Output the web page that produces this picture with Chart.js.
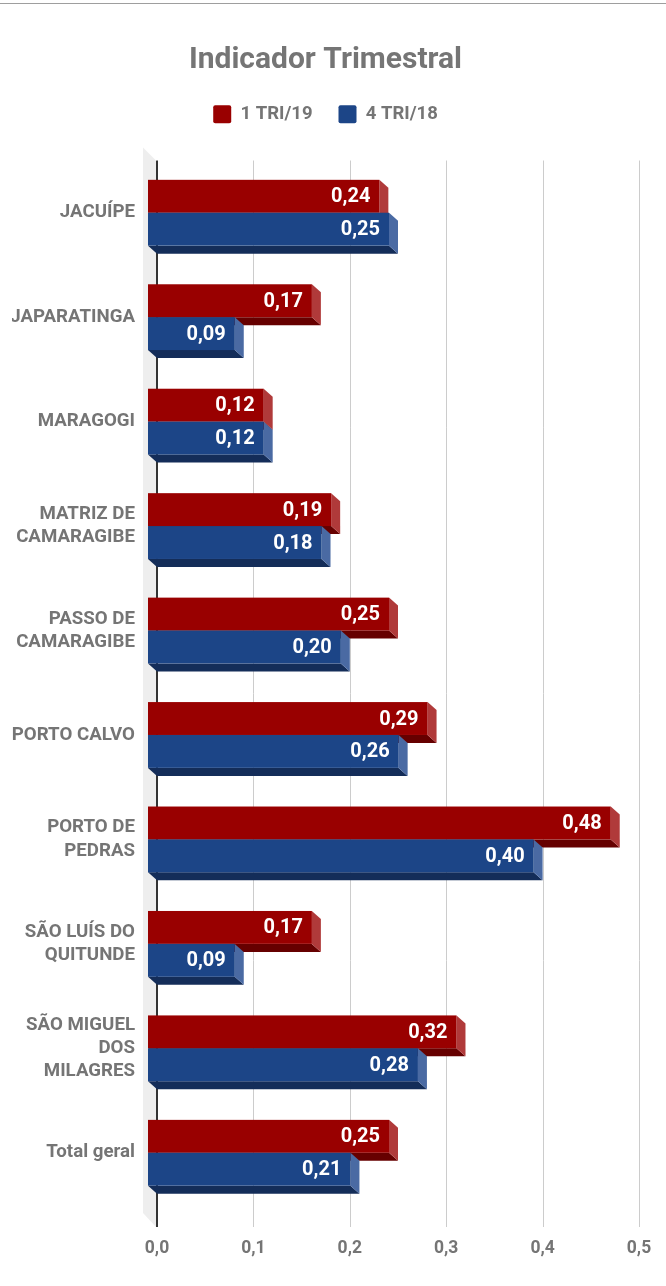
<!DOCTYPE html>
<html>
<head>
<meta charset="utf-8">
<script src="https://cdn.jsdelivr.net/npm/chart.js@4.4.1/dist/chart.umd.min.js"></script>
<style>
  html, body { margin: 0; padding: 0; background: #fff; }
  .topline { position: absolute; left: 0; top: 3px; width: 666px; height: 1px; background: #9e9e9e; }
  .wrap { position: absolute; left: 0; top: 0; width: 666px; height: 1286px; }
</style>
</head>
<body>
<div class="wrap"><canvas id="indicadorChart" width="666" height="1286"></canvas></div>
<div class="topline"></div>
<script>
const categories = [
  'JACUÍPE',
  'JAPARATINGA',
  'MARAGOGI',
  ['MATRIZ DE', 'CAMARAGIBE'],
  ['PASSO DE', 'CAMARAGIBE'],
  'PORTO CALVO',
  ['PORTO DE', 'PEDRAS'],
  ['SÃO LUÍS DO', 'QUITUNDE'],
  ['SÃO MIGUEL', 'DOS', 'MILAGRES'],
  'Total geral'
];
const tri1_19 = [0.24, 0.17, 0.12, 0.19, 0.25, 0.29, 0.48, 0.17, 0.32, 0.25];
const tri4_18 = [0.25, 0.09, 0.12, 0.18, 0.20, 0.26, 0.40, 0.09, 0.28, 0.21];
const xTicks = [0, 0.1, 0.2, 0.3, 0.4, 0.5];

const GRAY = '#757575';
const fmt = v => v.toFixed(2).replace('.', ',');

// cores de cada face (frente, lado, fundo)
const faces = [
  { front: '#990000', side: '#b03a3a', bottom: '#660000' },
  { front: '#1c4587', side: '#4a6aa3', bottom: '#142d59' }
];

// desenha grade, parede e barras em "3D" no lugar das barras normais
const bars3d = {
  id: 'bars3d',
  beforeDatasetsDraw(chart) {
    const ctx = chart.ctx;
    const area = chart.chartArea;
    const xs = chart.scales.x;
    const dx = 9, dy = 8;
    const floor = area.bottom + 22; // a grade desce um pouco abaixo da ultima categoria

    ctx.save();
    // linhas verticais da grade
    xTicks.forEach(t => {
      const px = Math.round(xs.getPixelForValue(t));
      ctx.strokeStyle = t === 0 ? '#333333' : '#cccccc';
      ctx.lineWidth = t === 0 ? 2 : 1;
      ctx.beginPath();
      ctx.moveTo(t === 0 ? px : px + 0.5, area.top);
      ctx.lineTo(t === 0 ? px : px + 0.5, floor);
      ctx.stroke();
    });

    // parede cinza na esquerda
    ctx.fillStyle = '#eeeeee';
    ctx.beginPath();
    ctx.moveTo(area.left - 14, area.top - 13);
    ctx.lineTo(area.left - 1, area.top);
    ctx.lineTo(area.left - 1, floor);
    ctx.lineTo(area.left - 14, floor - 14);
    ctx.closePath();
    ctx.fill();

    const metas = [chart.getDatasetMeta(0), chart.getDatasetMeta(1)];
    for (let i = 0; i < categories.length; i++) {
      metas.forEach((meta, d) => {
        const bar = meta.data[i];
        const c = faces[d];
        const x0 = bar.base - dx, x1 = bar.x - dx;
        const top = bar.y - bar.height / 2, bot = bar.y + bar.height / 2;

        ctx.fillStyle = c.bottom;
        ctx.beginPath();
        ctx.moveTo(x0, bot);
        ctx.lineTo(x1, bot);
        ctx.lineTo(x1 + dx, bot + dy);
        ctx.lineTo(x0 + dx, bot + dy);
        ctx.closePath();
        ctx.fill();

        ctx.fillStyle = c.side;
        ctx.beginPath();
        ctx.moveTo(x1, top);
        ctx.lineTo(x1 + dx, top + dy);
        ctx.lineTo(x1 + dx, bot + dy);
        ctx.lineTo(x1, bot);
        ctx.closePath();
        ctx.fill();

        ctx.fillStyle = c.front;
        ctx.fillRect(x0, top, x1 - x0, bot - top);

        const v = chart.data.datasets[d].data[i];
        ctx.fillStyle = '#ffffff';
        ctx.font = 'bold 20px Roboto';
        ctx.textAlign = 'right';
        ctx.textBaseline = 'middle';
        ctx.fillText(fmt(v), x1 - 9, bar.y + 1);
      });
    }
    ctx.restore();
    return false;
  }
};

const ctx = document.getElementById('indicadorChart').getContext('2d');
new Chart(ctx, {
  type: 'bar',
  data: {
    labels: categories,
    datasets: [
      { label: '1 TRI/19', data: tri1_19, backgroundColor: faces[0].front, borderColor: faces[0].front },
      { label: '4 TRI/18', data: tri4_18, backgroundColor: faces[1].front, borderColor: faces[1].front }
    ]
  },
  plugins: [bars3d],
  options: {
    indexAxis: 'y',
    responsive: false,
    animation: false,
    layout: { padding: { left: 12, right: 27, top: 0, bottom: 0 } },
    datasets: { bar: { barPercentage: 1, categoryPercentage: 0.63 } },
    plugins: {
      title: {
        display: true,
        text: 'Indicador Trimestral',
        color: GRAY,
        font: { family: 'Roboto', size: 30, weight: 'bold' },
        padding: { top: 42, bottom: 1 }
      },
      // espaco vazio entre a legenda e o grafico
      subtitle: {
        display: true,
        text: '',
        weight: 500,
        font: { size: 10, lineHeight: 1 },
        padding: { top: 0, bottom: 17 }
      },
      legend: {
        display: true,
        position: 'top',
        labels: {
          color: GRAY,
          font: { family: 'Roboto', size: 18.5, weight: 'bold' },
          boxWidth: 18,
          boxHeight: 18,
          useBorderRadius: true,
          borderRadius: 2,
          padding: 26
        }
      },
      tooltip: { enabled: false }
    },
    scales: {
      x: {
        min: 0,
        max: 0.5,
        afterBuildTicks: s => { s.ticks = xTicks.map(v => ({ value: v })); },
        afterFit: s => { s.height = 81; },
        // grade desenhada no plugin; tickLength so empurra os rotulos para baixo
        grid: { display: false, drawTicks: true, tickLength: 22 },
        border: { display: false },
        ticks: {
          padding: 11,
          color: GRAY,
          font: { family: 'Roboto', size: 17.5, weight: 'bold' },
          callback: v => Number(v).toFixed(1).replace('.', ',')
        }
      },
      y: {
        afterFit: s => { s.width = 145; },
        grid: { display: false, drawTicks: false },
        border: { display: false },
        ticks: {
          padding: 22,
          color: GRAY,
          font: { family: 'Roboto', size: 18.7, weight: 'bold', lineHeight: 1.25 }
        }
      }
    }
  }
});
</script>
</body>
</html>
